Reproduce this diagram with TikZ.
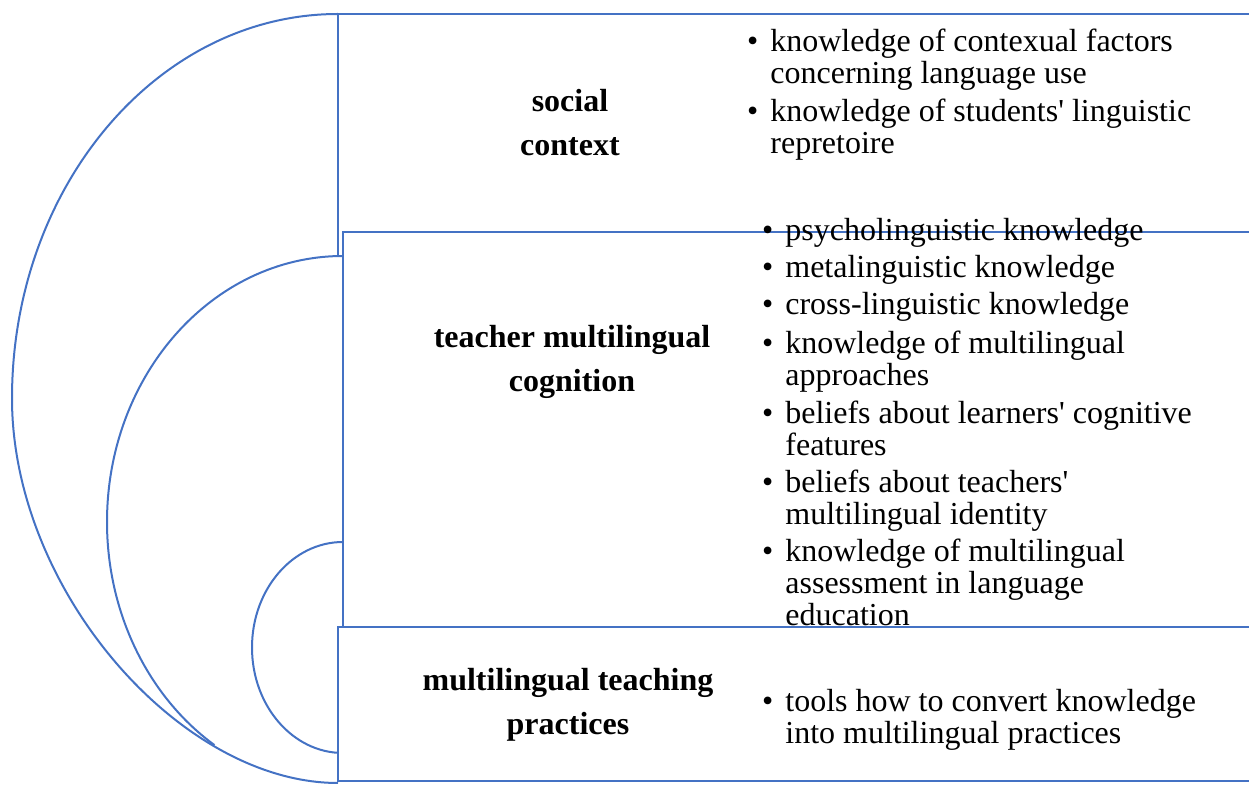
\documentclass[tikz,border=0pt]{standalone}
\usepackage{fontspec}
\setmainfont{Liberation Serif}
\definecolor{lineblue}{RGB}{68,114,196}
\newcommand{\itembullet}{\llap{\textbullet\hspace{6pt}}}
\begin{document}
\begin{tikzpicture}[x=0.5pt, y=0.5pt,
	ring/.style={draw=lineblue, line width=1pt},
	layer/.style={draw=lineblue, line width=1pt, fill=white},
	headtext/.style={font=\fontsize{16}{22}\selectfont\bfseries, align=center, inner sep=0pt},
	itemtext/.style={font=\fontsize{16}{15.8}\selectfont, align=left, anchor=north west, inner sep=0pt}]
	\clip (0,0) rectangle (1249,-785);
	\draw[ring] (338,-14) arc[start angle=90, end angle=180, x radius=326, y radius=384.5]
		.. controls (12,-590) and (180,-783) .. (338,-783); %outer arc
	\draw[ring] (343,-256) arc[start angle=90, end angle=237, x radius=236, y radius=266]; %middle arc
	\draw[ring] (343,-542) arc[start angle=90, end angle=270, x radius=91, y radius=105.5]; %inner arc
	
	\draw[layer] (338,-14) rectangle (1260,-256); %social context
	\draw[layer] (343,-232) rectangle (1260,-630); %cognition
	\draw[layer] (338,-627) rectangle (1260,-781); %practices
	
	\node[headtext] at (570,-123) (social) {social\\context};
	\node[headtext] at (572,-362) (cognition) {teacher multilingual\\cognition};
	\node[headtext] at (568,-705) (practices) {multilingual teaching\\practices};
	
	\node[itemtext] at (770,-29) (factors) {\itembullet knowledge of contexual factors\\concerning language use};
	\node[itemtext] at (770,-99) (repertoire) {\itembullet knowledge of students\textquotesingle{} linguistic\\repretoire};
	
	\node[itemtext] at (785,-218) (psycho) {\itembullet psycholinguistic knowledge};
	\node[itemtext] at (785,-255) (meta) {\itembullet metalinguistic knowledge};
	\node[itemtext] at (785,-292) (cross) {\itembullet cross-linguistic knowledge};
	\node[itemtext] at (785,-331) (approaches) {\itembullet knowledge of multilingual\\approaches};
	\node[itemtext] at (785,-401) (learners) {\itembullet beliefs about learners\textquotesingle{} cognitive\\features};
	\node[itemtext] at (785,-470) (identity) {\itembullet beliefs about teachers\textquotesingle{}\\multilingual identity};
	\node[itemtext] at (785,-539) (assessment) {\itembullet knowledge of multilingual\\assessment in language\\education};
	
	\node[itemtext] at (785,-689) (tools) {\itembullet tools how to convert knowledge\\into multilingual practices};
\end{tikzpicture}
\end{document}
